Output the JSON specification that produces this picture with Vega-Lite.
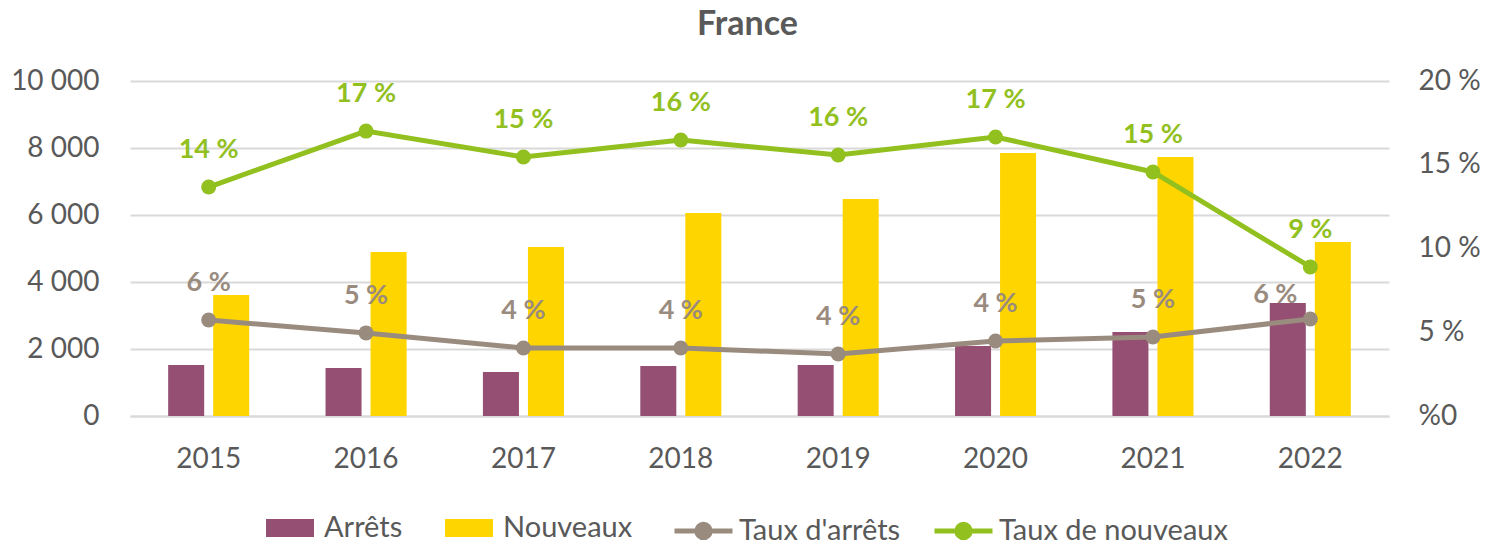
{
  "$schema": "https://vega.github.io/schema/vega-lite/v6.json",
  "width": 1259,
  "height": 335,
  "autosize": {"type": "none"},
  "padding": {"left": 130, "top": 81, "right": 100, "bottom": 130},
  "background": "white",
  "config": {
    "font": "Lato",
    "view": {"stroke": null},
    "axis": {"labelFont": "Lato", "labelColor": "#595959", "labelFontSize": 28, "ticks": false, "title": null},
    "legend": {"labelFont": "Lato", "labelColor": "#595959", "labelFontSize": 29, "title": null, "labelLimit": 500}
  },
  "title": {"text": "France", "font": "Lato", "fontSize": 34, "fontWeight": "bold", "color": "#595959", "offset": 25, "baseline": "top", "frame": "group", "dx": -12},
  "datasets": {
    "vol": [
      {"annee": "2015", "serie": "Arrêts", "valeur": 1522},
      {"annee": "2015", "serie": "Nouveaux", "valeur": 3612},
      {"annee": "2016", "serie": "Arrêts", "valeur": 1433},
      {"annee": "2016", "serie": "Nouveaux", "valeur": 4896},
      {"annee": "2017", "serie": "Arrêts", "valeur": 1313},
      {"annee": "2017", "serie": "Nouveaux", "valeur": 5045},
      {"annee": "2018", "serie": "Arrêts", "valeur": 1493},
      {"annee": "2018", "serie": "Nouveaux", "valeur": 6060},
      {"annee": "2019", "serie": "Arrêts", "valeur": 1522},
      {"annee": "2019", "serie": "Nouveaux", "valeur": 6478},
      {"annee": "2020", "serie": "Arrêts", "valeur": 2090},
      {"annee": "2020", "serie": "Nouveaux", "valeur": 7851},
      {"annee": "2021", "serie": "Arrêts", "valeur": 2507},
      {"annee": "2021", "serie": "Nouveaux", "valeur": 7731},
      {"annee": "2022", "serie": "Arrêts", "valeur": 3373},
      {"annee": "2022", "serie": "Nouveaux", "valeur": 5194}
    ],
    "taux": [
      {"annee": "2015", "serie": "Taux d'arrêts", "taux": 5.73, "label": "6 %"},
      {"annee": "2016", "serie": "Taux d'arrêts", "taux": 4.96, "label": "5 %"},
      {"annee": "2017", "serie": "Taux d'arrêts", "taux": 4.06, "label": "4 %"},
      {"annee": "2018", "serie": "Taux d'arrêts", "taux": 4.06, "label": "4 %"},
      {"annee": "2019", "serie": "Taux d'arrêts", "taux": 3.7, "label": "4 %"},
      {"annee": "2020", "serie": "Taux d'arrêts", "taux": 4.48, "label": "4 %"},
      {"annee": "2021", "serie": "Taux d'arrêts", "taux": 4.72, "label": "5 %"},
      {"annee": "2022", "serie": "Taux d'arrêts", "taux": 5.79, "label": "6 %"},
      {"annee": "2015", "serie": "Taux de nouveaux", "taux": 13.67, "label": "14 %"},
      {"annee": "2016", "serie": "Taux de nouveaux", "taux": 17.01, "label": "17 %"},
      {"annee": "2017", "serie": "Taux de nouveaux", "taux": 15.46, "label": "15 %"},
      {"annee": "2018", "serie": "Taux de nouveaux", "taux": 16.48, "label": "16 %"},
      {"annee": "2019", "serie": "Taux de nouveaux", "taux": 15.58, "label": "16 %"},
      {"annee": "2020", "serie": "Taux de nouveaux", "taux": 16.66, "label": "17 %"},
      {"annee": "2021", "serie": "Taux de nouveaux", "taux": 14.57, "label": "15 %"},
      {"annee": "2022", "serie": "Taux de nouveaux", "taux": 8.9, "label": "9 %"}
    ]
  },
  "layer": [
    {
      "data": {"name": "vol"},
      "mark": {"type": "bar"},
      "encoding": {
        "x": {
          "field": "annee", "type": "nominal",
          "scale": {"paddingInner": 0.485, "paddingOuter": 0.2425},
          "axis": {"labelAngle": 0, "domain": true, "domainColor": "#D9D9D9", "domainWidth": 2, "labelPadding": 29, "grid": false}
        },
        "xOffset": {"field": "serie", "type": "nominal", "sort": ["Arrêts", "Nouveaux"], "scale": {"paddingInner": 0.2, "paddingOuter": 0}},
        "y": {
          "field": "valeur", "type": "quantitative",
          "scale": {"domain": [0, 10000], "nice": false},
          "axis": {"orient": "left", "values": [0, 2000, 4000, 6000, 8000, 10000], "grid": true, "gridColor": "#D9D9D9", "gridWidth": 2, "domain": false, "labelPadding": 31, "labelExpr": "replace(format(datum.value, ',d'), ',', ' ')"}
        },
        "fill": {
          "field": "serie", "type": "nominal",
          "scale": {"domain": ["Arrêts", "Nouveaux"], "range": ["#954F72", "#FFD500"]},
          "legend": {"orient": "none", "direction": "horizontal", "legendX": 136, "legendY": 423, "symbolType": "M-1,-0.375H1V0.375H-1Z", "symbolSize": 2304, "symbolStrokeWidth": 0, "labelOffset": 10, "columnPadding": 42}
        }
      }
    },
    {
      "data": {"name": "taux"},
      "layer": [
        {
          "mark": {"type": "line", "strokeWidth": 5, "point": {"filled": true, "size": 225}},
          "encoding": {
            "x": {"field": "annee", "type": "nominal"},
            "y": {
              "field": "taux", "type": "quantitative",
              "scale": {"domain": [0, 20], "nice": false},
              "axis": {"orient": "right", "values": [0, 5, 10, 15, 20], "grid": false, "domain": false, "labelPadding": 29, "labelExpr": "datum.value == 0 ? '%0' : datum.value + ' %'"}
            },
            "color": {
              "field": "serie", "type": "nominal",
              "scale": {"domain": ["Taux d'arrêts", "Taux de nouveaux"], "range": ["#9A8B7F", "#92C01F"]},
              "legend": {
                "orient": "none", "direction": "horizontal", "legendX": 542, "legendY": 418,
                "symbolType": "M-1,0H1M-0.23,0A0.23,0.23 0 1,0 0.23,0A0.23,0.23 0 1,0 -0.23,0",
                "symbolSize": 3364, "symbolStrokeWidth": 5, "labelOffset": 4, "columnPadding": 23,
                "encode": {"symbols": {"update": {"fill": {"scale": "color", "field": "value"}}}}
              }
            }
          }
        },
        {
          "transform": [{"filter": "!(datum.annee == '2022' && datum.serie == \"Taux d'arrêts\")"}],
          "mark": {"type": "text", "fontWeight": "bold", "fontSize": 27, "dy": -37, "baseline": "middle", "font": "Lato"},
          "encoding": {
            "x": {"field": "annee", "type": "nominal"},
            "y": {"field": "taux", "type": "quantitative"},
            "text": {"field": "label"},
            "color": {"field": "serie", "type": "nominal", "legend": null}
          }
        },
        {
          "transform": [{"filter": "datum.annee == '2022' && datum.serie == \"Taux d'arrêts\""}],
          "mark": {"type": "text", "fontWeight": "bold", "fontSize": 27, "dy": -24, "dx": -35, "baseline": "middle", "font": "Lato"},
          "encoding": {
            "x": {"field": "annee", "type": "nominal"},
            "y": {"field": "taux", "type": "quantitative"},
            "text": {"field": "label"},
            "color": {"field": "serie", "type": "nominal", "legend": null}
          }
        }
      ]
    }
  ],
  "resolve": {"scale": {"y": "independent"}, "axis": {"y": "independent"}}
}
